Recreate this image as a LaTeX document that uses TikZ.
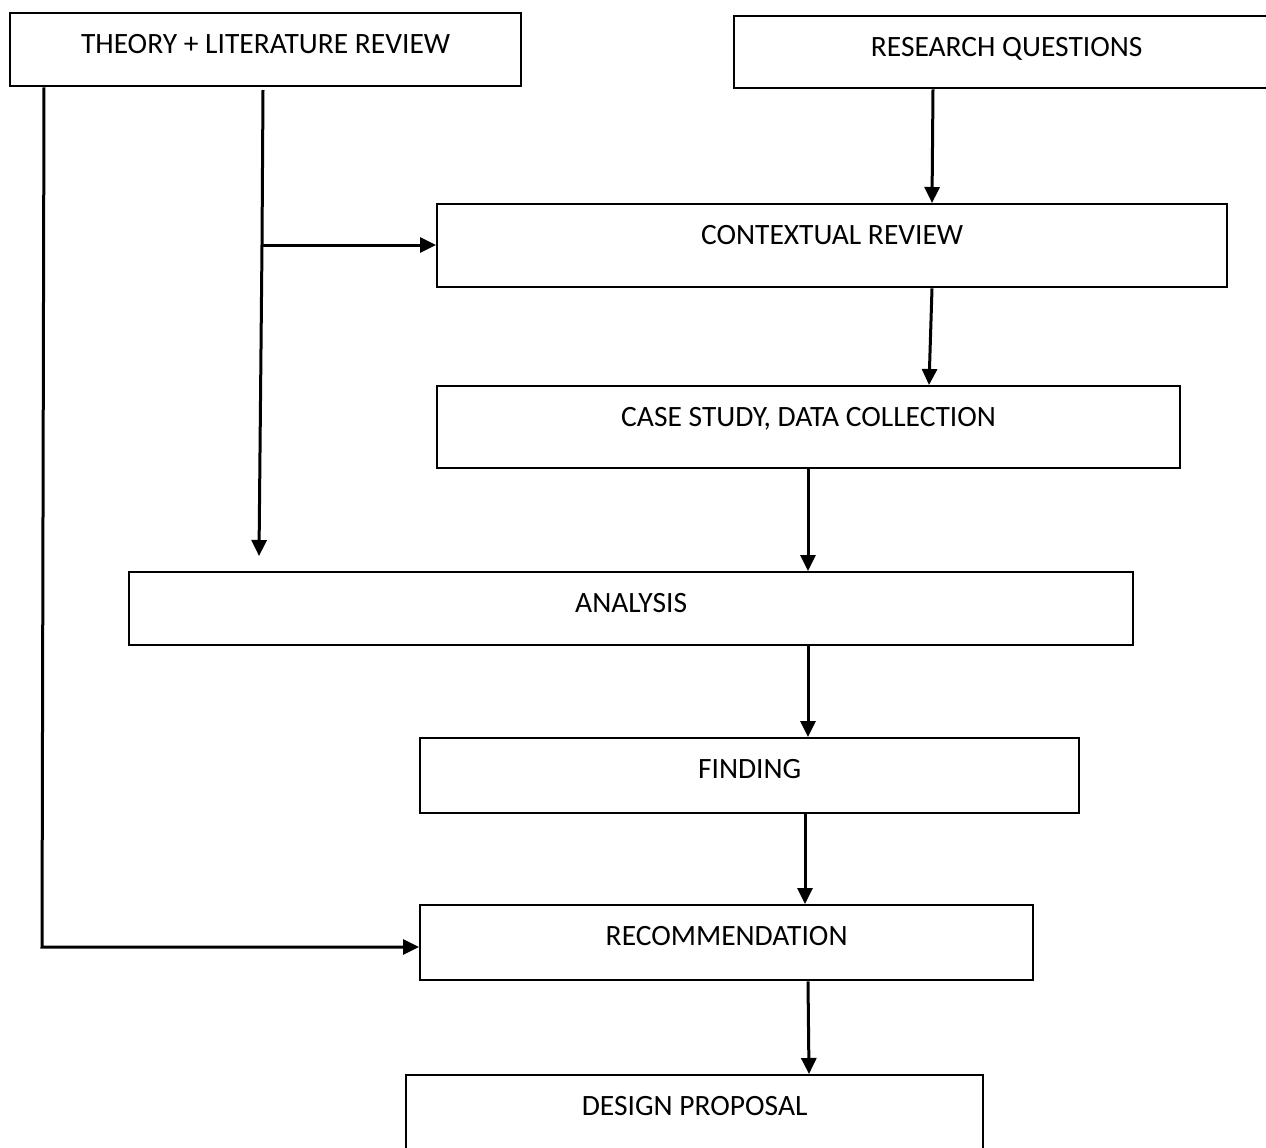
\documentclass[tikz,border=0pt]{standalone}
\usepackage{fontspec}
\setmainfont{Carlito}
\usetikzlibrary{arrows.meta}

\tikzset{
  box/.style={draw, line width=2.3pt, anchor=north west, inner ysep=21.5pt,
    text height=18.6pt, text depth=#1, font=\fontsize{29.5}{35}\selectfont},
  link/.style={line width=3pt},
  arr/.style={link, -{Triangle[length=16pt,width=15pt]}},
}

\begin{document}
\begin{tikzpicture}[x=1pt,y=-1pt]
% Page
\useasboundingbox (0,0) rectangle (1266,1148);
\clip (0,0) rectangle (1266,1148);

% Boxes
\node[box=11.4pt, minimum width=511pt] (theory) at (9,12) {THEORY + LITERATURE REVIEW};
\node[box=10.4pt, minimum width=545pt] (rq) at (733,15) {RESEARCH QUESTIONS};
\node[box=21.4pt, minimum width=790pt] (ctx) at (436,203) {CONTEXTUAL REVIEW};
\node[box=20.4pt, minimum width=743pt] (case) at (436,385) {CASE STUDY, DATA COLLECTION};
\node[box=11.4pt, minimum width=1004pt] (analysis) at (128,571) {ANALYSIS};
\node[box=13.4pt, minimum width=659pt] (finding) at (419,737) {FINDING};
\node[box=13.4pt, minimum width=613pt] (rec) at (419,904) {RECOMMENDATION};
\node[box=38.4pt, minimum width=577pt] (design) at (405,1074) {DESIGN PROPOSAL};

% Theory branches
\coordinate (trunkTop) at (263,90);
\coordinate (split) at (262,245);
\coordinate (trunkEnd) at (259,556);
\coordinate (corner) at (42,947);

\draw[link] (trunkTop) -- (split);
\draw[arr] (split) -- (trunkEnd);
\draw[arr] (split) -- (split -| ctx.west);
\draw[arr] (theory.south -| 44,0) -- (corner) -- (corner -| rec.west);

% Main chain
\draw[arr] (rq.south -| 933,0) -- (ctx.north -| 932,0);
\draw[arr] (ctx.south -| 932,0) -- (case.north -| 929,0);
\draw[arr] (case.south -| 808,0) -- (analysis.north -| 808,0);
\draw[arr] (analysis.south -| 808,0) -- (finding.north -| 808,0);
\draw[arr] (finding.south -| 805,0) -- (rec.north -| 805,0);
\draw[arr] (rec.south -| 808,0) -- (design.north -| 809,0);
\end{tikzpicture}
\end{document}
